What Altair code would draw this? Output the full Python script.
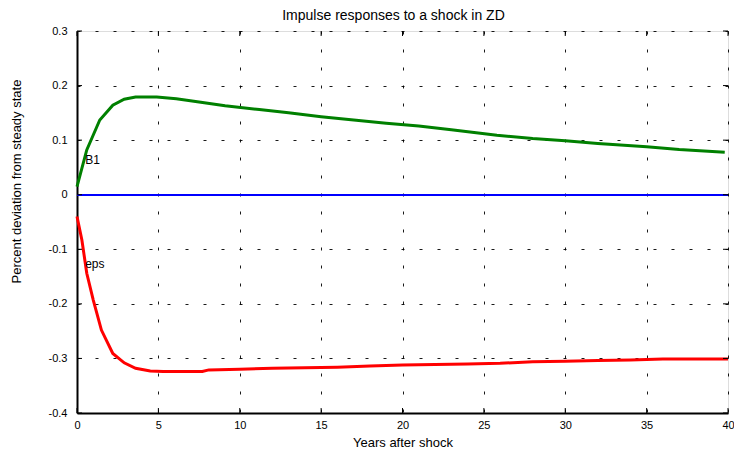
import altair as alt
import pandas as pd

# Impulse responses (years after shock, percent deviation from steady state)
years_b1 = [0, 0.6, 1.4, 2.2, 2.9, 3.6, 4.9, 6.1, 7.5, 9.1, 11.2, 13, 15, 17, 19, 21, 23, 25.8, 28, 30, 32, 35, 37, 39.8]
b1 = [0.015, 0.082, 0.137, 0.164, 0.175, 0.179, 0.179, 0.176, 0.170, 0.163, 0.156, 0.150, 0.143, 0.137, 0.131,
      0.126, 0.119, 0.109, 0.103, 0.099, 0.094, 0.088, 0.083, 0.078]

years_eps = [0, 0.3, 0.6, 1.0, 1.5, 2.2, 2.9, 3.6, 4.5, 5.3, 7.7, 8.1, 10, 12, 14, 16, 18, 20, 22, 24, 26, 28,
             30, 32, 34, 36, 38, 40]
eps = [-0.040, -0.083, -0.144, -0.193, -0.248, -0.291, -0.308, -0.318, -0.323, -0.324, -0.324, -0.321, -0.320,
       -0.318, -0.317, -0.316, -0.314, -0.312, -0.311, -0.310, -0.309, -0.306, -0.305, -0.304, -0.303, -0.301,
       -0.301, -0.301]

x_ticks = [0, 5, 10, 15, 20, 25, 30, 35, 40]
y_ticks = [-0.4, -0.3, -0.2, -0.1, 0, 0.1, 0.2, 0.3]

labels = ["B1", "eps"]
label_x = [0.5, 0.5]
label_y = [0.063, -0.127]

FONT = "Liberation Sans"
W, H = 651, 382

df_b1 = pd.DataFrame({"year": years_b1, "value": b1})
df_eps = pd.DataFrame({"year": years_eps, "value": eps})
df_lab = pd.DataFrame({"label": labels, "year": label_x, "value": label_y})
df_xt = pd.DataFrame({"year": x_ticks})
df_yt = pd.DataFrame({"value": y_ticks})

x_scale = alt.Scale(domain=[0, 40], nice=False, zero=False)
y_scale = alt.Scale(domain=[-0.4, 0.3], nice=False, zero=False)

x_axis = alt.Axis(
    values=x_ticks, title="Years after shock", grid=True, gridDash=[3, 15], gridColor="black",
    gridWidth=1, gridOpacity=0.9, tickSize=0, labelPadding=6, labelFontSize=11, labelFont=FONT,
    labelColor="black", titleFont=FONT, titleFontSize=13, titleFontWeight="normal", titleColor="black",
    titleY=29, titleBaseline="middle", domainColor="black", domainWidth=2,
    labelExpr="toString(datum.value)", labelOverlap=False, labelFlush=False,
)
y_axis = alt.Axis(
    values=y_ticks, title="Percent deviation from steady state", grid=True, gridDash=[3, 15],
    gridColor="black", gridWidth=1, gridOpacity=0.9, tickSize=0, labelPadding=10, labelFontSize=11,
    labelFont=FONT, labelColor="black", titleFont=FONT, titleFontSize=13, titleFontWeight="normal",
    titleColor="black", titleX=-61, titleY=150, titleAngle=-90, titleAlign="center",
    titleBaseline="middle", domainColor="black", domainWidth=2,
    labelExpr="datum.value == 0 ? '0' : toString(round(datum.value * 10) / 10)", labelOverlap=False,
    labelFlush=False,
)

base_b1 = alt.Chart(df_b1).mark_line(color="#008000", strokeWidth=3).encode(
    x=alt.X("year:Q", scale=x_scale, axis=x_axis),
    y=alt.Y("value:Q", scale=y_scale, axis=y_axis),
)
line_eps = alt.Chart(df_eps).mark_line(color="#ff0000", strokeWidth=3).encode(
    x=alt.X("year:Q", scale=x_scale),
    y=alt.Y("value:Q", scale=y_scale),
)
zero = alt.Chart(df_b1).mark_rule(color="#0000ff", strokeWidth=1.5).encode(y=alt.datum(0))
text = alt.Chart(df_lab).mark_text(align="left", baseline="middle", font=FONT, fontSize=12, color="black").encode(
    x=alt.X("year:Q", scale=x_scale),
    y=alt.Y("value:Q", scale=y_scale),
    text="label:N",
)

# inward tick marks on all four sides of the box
tick_bottom = alt.Chart(df_xt).mark_rule(color="black", strokeWidth=1).encode(
    x=alt.X("year:Q", scale=x_scale), y=alt.value(H - 5), y2=alt.value(H))
tick_top = alt.Chart(df_xt).mark_rule(color="black", strokeWidth=1).encode(
    x=alt.X("year:Q", scale=x_scale), y=alt.value(0), y2=alt.value(5))
tick_left = alt.Chart(df_yt).mark_rule(color="black", strokeWidth=1).encode(
    y=alt.Y("value:Q", scale=y_scale), x=alt.value(0), x2=alt.value(5))
tick_right = alt.Chart(df_yt).mark_rule(color="black", strokeWidth=1).encode(
    y=alt.Y("value:Q", scale=y_scale), x=alt.value(W - 5), x2=alt.value(W))

chart = alt.layer(base_b1, zero, line_eps, text, tick_bottom, tick_top, tick_left, tick_right).properties(
    width=W,
    height=H,
    title=alt.TitleParams("Impulse responses to a shock in ZD", font=FONT, fontSize=14, fontWeight="normal",
                          color="black", offset=2, dx=-9),
    autosize=alt.AutoSizeParams(type="none"),
    padding={"left": 69, "top": 23, "right": 6, "bottom": 37},
).configure_view(stroke="black", strokeWidth=2).configure(background="white")

chart.save("out.html", embed_options={"renderer": "svg", "actions": False})
